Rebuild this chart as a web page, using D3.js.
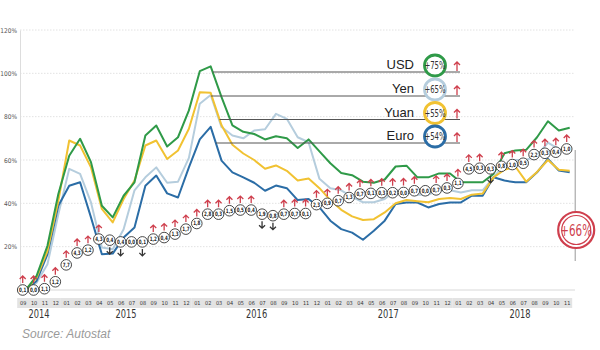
<!DOCTYPE html>
<html><head><meta charset="utf-8">
<script src="https://cdn.jsdelivr.net/npm/d3@7"></script>
<style>body{margin:0;background:#fff}svg{display:block}</style>
</head><body><svg id="c" width="600" height="350"></svg>
<script>
const monthLabels = ["09","10","11","12",
  "01","02","03","04","05","06","07","08","09","10","11","12",
  "01","02","03","04","05","06","07","08","09","10","11","12",
  "01","02","03","04","05","06","07","08","09","10","11","12",
  "01","02","03","04","05","06","07","08","09","10","11"];
const yearLabels = ["2014","2015","2016","2017","2018"];
const yearFirst = [0,4,16,28,40];
const yearLast = [3,15,27,39,50];
const yearCenter = [1.5,9.5,21.5,33.6,45.7];
const yTicks = [20,40,60,80,100,120];

const usd = [0,6.5,20.4,44.3,62,69.8,59,38.9,33.5,43.5,49.7,71.3,75.9,66.2,70.5,82.9,101,103.2,
  89,76,73,72,69.5,71,70,65.5,69.5,64,58.5,54,53,50,49.5,51,57,57.4,52,52,53.8,53.8,49.7,49.7,49.7,
  53.6,63.1,64.4,64.7,70.5,77.9,73.6,74.9];
const yen = [0,3.4,11.9,35,55.9,53.6,40.4,19.6,18.8,28,46,52,56.6,49.5,50,61,86,90,
  75.2,71.3,70,73.6,74.2,81.3,79,70.5,68.2,51.3,47,46,43,40.5,40.5,42,46,45,44,44,46,46,45,46,46,
  52,58,60,60,62,68,65,65];
const yuan = [0,5.7,18,41.2,69,66.7,56.6,37.4,31.2,42,50.5,66.7,69,60.5,64.4,74.4,91.3,91,
  76,67,63,60,56,57.5,55,50.5,51.5,47,41.5,37,34,32.3,32.7,35.8,40,41.5,41,40.5,42,42.5,42,44,44.5,
  52,55.5,57,50,54.5,60,55.5,55];
const euro = [0,4.2,16.5,38.9,48.1,49.7,33.5,16.5,16.8,24.2,28.8,48.1,52.8,44.6,42.7,56.6,69.5,75.3,
  59.7,54.3,52,49.5,45.8,48.2,47,41.5,42,38.1,32,28.1,26.5,23.2,27.3,32,39.7,40.4,40.4,38.1,39.7,40.4,40.4,
  43.5,43.5,52,50.5,49.7,49.7,54.3,60.5,55.1,54.3];

const seriesNames = ["USD","Yen","Yuan","Euro"];
const seriesChange = ["+75%","+65%","+55%","+54%"];
const seriesColors = ["#2f9a48","#b5cddd","#f1c232","#2b6da6"];

const priceCum = [0,0,0.6,3.8,11.6,17.1,18.4,23.5,23.0,22.2,22.2,22.2,23.5,24.2,25.8,28.1,30.7,35.0,35.0,36.6,
  36.9,36.9,35.0,34.3,35.0,35.3,35.3,39.4,40.0,41.2,42.7,44.3,44.6,44.9,44.9,45.0,45.8,45.8,46.2,47.1,
  49.2,55.9,56.2,55.9,57.1,57.9,58.5,62.5,63.1,63.6,65.1];
const priceChange = ["0,1","0,0","1,1","1,2","7,7","4,3","1,2","4,3","0,4","0,4","0,0","0,1","1,2","0,4","1,3",
  "1,7","1,8","2,8","0,3","1,5","0,5","0,4","1,9","0,8","0,7","0,7","0,1","2,3","0,9","0,7","1,3","0,7","0,1",
  "0,3","0,2","0,0","0,7","0,0","0,7","0,3","1,1","4,5","0,3","0,3","0,8","1,0","0,5","2,2","0,3","0,4","1,0"];
const priceDir = [1,1,1,1,1,1,1,1,-1,-1,0,-1,1,1,1,1,1,1,1,1,1,1,-1,-1,1,1,1,1,1,1,1,1,1,1,1,1,1,0,1,1,
  1,1,1,-1,1,1,1,1,1,1,1];
const totalLabel = "+66%";
const sourceText = "Source: Autostat";

const svg = d3.select("#c");
const x = d3.scaleLinear().domain([0, 50]).range([22.7, 566.7]);
const y = d3.scaleLinear().domain([0, 120]).range([290, 30]);
const lineOff = 3;
const RED = "#cf3f4d";
const narrow = "'Liberation Sans Narrow','DejaVu Sans Condensed','Arial Narrow',sans-serif";

// gridlines
svg.append("g").selectAll("line").data(yTicks).join("line")
  .attr("x1", 20).attr("x2", 575).attr("y1", d => y(d)).attr("y2", d => y(d))
  .attr("stroke", "#e2e2e2").attr("stroke-dasharray", "1.5,1.5");

// y axis
const ya = svg.append("g").attr("transform", "translate(20,0)")
  .call(d3.axisLeft(y).tickValues(yTicks).tickSize(0).tickPadding(3).tickFormat(d => d + "%"));
ya.select(".domain").attr("stroke", "#dddddd");
ya.selectAll("text").attr("font-family", narrow).attr("font-size", 6.5).attr("fill", "#555");

// x axis baseline
svg.append("line").attr("x1", 20).attr("x2", 575).attr("y1", y(0)).attr("y2", y(0)).attr("stroke", "#d8d8d8");

// month band
svg.append("g").selectAll("rect").data(yearLabels).join("rect")
  .attr("x", (d, i) => x(yearFirst[i]) - 5.5)
  .attr("width", (d, i) => x(yearLast[i]) - x(yearFirst[i]) + 11)
  .attr("y", 298).attr("height", 10).attr("fill", "#e3e3e3");
const xa = svg.append("g").attr("transform", "translate(0,303)")
  .call(d3.axisBottom(x).tickValues(d3.range(51)).tickSize(0).tickPadding(0).tickFormat(i => monthLabels[i]));
xa.select(".domain").remove();
xa.selectAll("text").attr("font-family", narrow).attr("font-size", 5.5).attr("fill", "#333").attr("dy", "0.35em");

svg.append("g").selectAll("text").data(yearLabels).join("text")
  .attr("transform", (d, i) => `translate(${x(yearCenter[i])},318) scale(0.8,1)`)
  .attr("text-anchor", "middle").attr("font-family", narrow).attr("font-size", 11.5).attr("fill", "#333")
  .text(d => d);

// series lines
const seriesIdx = [1, 3, 2, 0];
const allSeries = [usd, yen, yuan, euro];
const line = d3.line().x((d, i) => x(i) + lineOff).y(d => y(d));
svg.append("g").selectAll("path").data(seriesIdx).join("path")
  .attr("d", k => line(allSeries[k]))
  .attr("fill", "none").attr("stroke", k => seriesColors[k]).attr("stroke-width", 2).attr("stroke-linejoin", "round");

// legend
const legendLineY = [72, 96, 119.5, 143];
function crossX(vals, py) {
  const v = y.invert(py);
  let p = d3.maxIndex(vals);
  for (let k = p; k < vals.length - 1; k++) {
    if (vals[k] >= v && vals[k + 1] <= v) {
      const t = (vals[k] - v) / (vals[k] - vals[k + 1]);
      return x(k + t) + lineOff;
    }
  }
  return x(p) + lineOff;
}
function upArrow(g, cx, yb, yt, color) {
  g.append("path").attr("d", `M${cx},${yb}L${cx},${yt}M${cx - 3},${yt + 3}L${cx},${yt}L${cx + 3},${yt + 3}`)
    .attr("stroke", color).attr("stroke-width", 1.3).attr("fill", "none");
}
function downArrow(g, cx, yt, yb, color) {
  g.append("path").attr("d", `M${cx},${yt}L${cx},${yb}M${cx - 3},${yb - 3}L${cx},${yb}L${cx + 3},${yb - 3}`)
    .attr("stroke", color).attr("stroke-width", 1.3).attr("fill", "none");
}
const lg = svg.append("g");
seriesNames.forEach((name, k) => {
  const ly = legendLineY[k];
  lg.append("line").attr("x1", crossX(allSeries[k], ly)).attr("x2", 460).attr("y1", ly).attr("y2", ly)
    .attr("stroke", "#555").attr("stroke-width", 1);
  lg.append("text").attr("x", 414).attr("y", ly - 3).attr("text-anchor", "end")
    .attr("font-family", "'Liberation Sans',Arial,sans-serif").attr("font-size", 13).attr("fill", "#222").text(name);
  const cy = ly - 6.5;
  lg.append("circle").attr("cx", 435).attr("cy", cy).attr("r", 10.5).attr("fill", "#fff")
    .attr("stroke", seriesColors[k]).attr("stroke-width", 2.8);
  lg.append("text").attr("transform", `translate(435,${cy + 3.6}) scale(0.7,1)`).attr("text-anchor", "middle")
    .attr("font-family", narrow).attr("font-size", 11).attr("fill", "#333").text(seriesChange[k]);
  upArrow(lg, 457, ly - 1, ly - 10, RED);
});

// price circles
const pg = svg.append("g");
priceCum.forEach((v, i) => {
  const cx = x(i), cy = y(v);
  if (priceDir[i] > 0) upArrow(pg, cx, cy - 7, cy - 14, RED);
  if (priceDir[i] < 0) downArrow(pg, cx, cy + 7, cy + 14, "#333");
});
priceCum.forEach((v, i) => {
  const cx = x(i), cy = y(v);
  pg.append("circle").attr("cx", cx).attr("cy", cy).attr("r", 5.3).attr("fill", "#fff")
    .attr("stroke", "#333").attr("stroke-width", 0.9);
  pg.append("text").attr("transform", `translate(${cx},${cy + 2}) scale(0.75,1)`).attr("text-anchor", "middle")
    .attr("font-family", narrow).attr("font-size", 6).attr("font-weight", "bold").attr("fill", "#222")
    .text(priceChange[i]);
});

// total marker
const tx = x(50) + 8.5;
svg.append("line").attr("x1", tx).attr("x2", tx).attr("y1", 150).attr("y2", 261)
  .attr("stroke", "#999").attr("stroke-width", 1);
svg.append("circle").attr("cx", tx + 1).attr("cy", 230).attr("r", 18).attr("fill", "#fff")
  .attr("stroke", RED).attr("stroke-width", 2.2);
svg.append("circle").attr("cx", tx + 1).attr("cy", 230).attr("r", 14.5).attr("fill", "none")
  .attr("stroke", RED).attr("stroke-width", 1.2);
svg.append("text").attr("transform", `translate(${tx + 1},235.5) scale(0.72,1)`).attr("text-anchor", "middle")
  .attr("font-family", narrow).attr("font-size", 16).attr("fill", RED).text(totalLabel);

// source
svg.append("text").attr("x", 22).attr("y", 338).attr("font-family", "'Liberation Sans',Arial,sans-serif")
  .attr("font-style", "italic").attr("font-size", 12).attr("fill", "#9a9a9a").text(sourceText);
</script></body></html>
